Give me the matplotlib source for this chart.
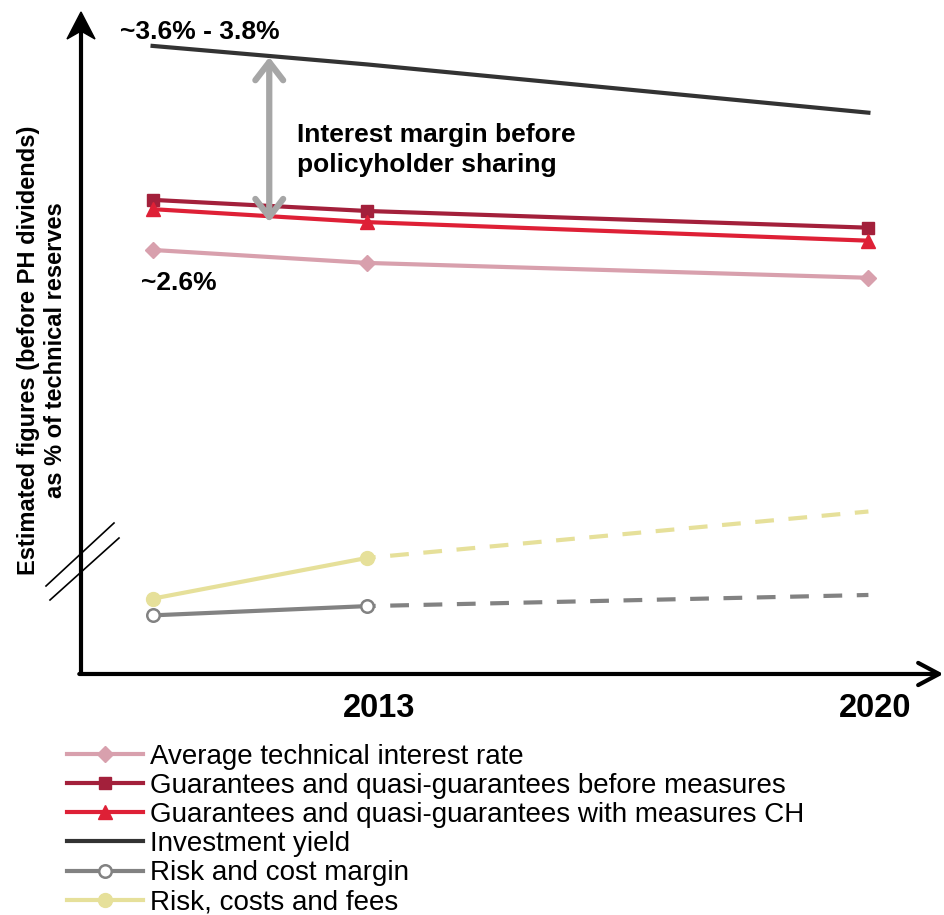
import matplotlib
matplotlib.use("Agg")
import matplotlib.pyplot as plt
from matplotlib.lines import Line2D
from matplotlib.patches import Polygon
from matplotlib.transforms import ScaledTranslation

plt.rcParams['font.family'] = ['Liberation Sans', 'DejaVu Sans']

years = [2010, 2013, 2020]
tick_years = [2013, 2020]
tick_labels = ["2013", "2020"]

avg_tech_rate = [2.60, 2.53, 2.45]
guar_before = [2.87, 2.81, 2.72]
guar_with = [2.82, 2.75, 2.65]
invest_yield = [3.70, 3.60, 3.34]
risk_cost_margin = [0.63, 0.68, 0.74]
risk_cost_fees = [0.72, 0.94, 1.19]

labels = ["Average technical interest rate",
          "Guarantees and quasi-guarantees before measures",
          "Guarantees and quasi-guarantees with measures CH",
          "Investment yield",
          "Risk and cost margin",
          "Risk, costs and fees"]

c_pink = "#d8a0ad"
c_dred = "#a3203b"
c_red = "#de2036"
c_dark = "#333333"
c_gray = "#828282"
c_yel = "#e6e09a"

W, H = 945, 915
fig = plt.figure(figsize=(9.45, 9.15), dpi=100)
ax = fig.add_axes([0.0857, 0.2634, 0.909, 0.7213])
ax.set_xlim(2009, 2021)
ax.set_ylim(0.314, 3.872)
for s in ax.spines.values():
    s.set_visible(False)
ax.set_yticks([])
ax.set_xticks(tick_years)
ax.set_xticklabels(tick_labels, fontsize=23.5, fontweight='bold')
ax.tick_params(axis='x', length=0, pad=14)
for lbl, dx in zip(ax.get_xticklabels(), [12, 7]):
    lbl.set_transform(lbl.get_transform() + ScaledTranslation(dx / 100, 0, fig.dpi_scale_trans))

lw = 3
ax.plot(years, invest_yield, color=c_dark, lw=lw)
ax.plot(years, guar_before, color=c_dred, lw=lw, marker='s', ms=9)
ax.plot(years, guar_with, color=c_red, lw=lw, marker='^', ms=10)
ax.plot(years, avg_tech_rate, color=c_pink, lw=lw, marker='D', ms=8)

# lower series: solid to 2013, dashed to 2020
ax.plot(years[:2], risk_cost_fees[:2], color=c_yel, lw=lw, marker='o', ms=10)
ax.plot(years[1:], risk_cost_fees[1:], color=c_yel, lw=lw, ls=(2.5, (4.5, 3.5)))
ax.plot(years[1:], risk_cost_margin[1:], color=c_gray, lw=lw, ls=(2.5, (4.5, 3.5)))
ax.plot(years[:2], risk_cost_margin[:2], color=c_gray, lw=lw, marker='o', ms=9,
        mfc='white', mec=c_gray, mew=1.8)

# y axis line with stealth arrowhead
fig.add_artist(Line2D([81 / W, 81 / W], [1 - 675 / H, 1 - 30 / H], color='black', lw=3,
                      solid_capstyle='butt', transform=fig.transFigure))
head = [(81, 12), (67, 39), (81, 31), (95, 39)]
fig.add_artist(Polygon([(x / W, 1 - y / H) for x, y in head], closed=True, color='black',
                       transform=fig.transFigure))
# x axis arrow
ax.annotate("", xy=(1.004, 0), xytext=(-0.002, 0), xycoords='axes fraction',
            arrowprops=dict(arrowstyle='->,head_length=1.5,head_width=0.8', lw=3, color='black',
                            shrinkA=0, shrinkB=0))

# axis break marks (figure pixels)
for (x0, y0, x1, y1) in [(46, 586, 114, 523), (50, 600, 119, 538)]:
    fig.add_artist(Line2D([x0 / W, x1 / W], [1 - y0 / H, 1 - y1 / H],
                          color='black', lw=1.2, transform=fig.transFigure))

# interest margin arrow
ax.annotate("", xy=(2011.63, 3.64), xytext=(2011.63, 2.75),
            arrowprops=dict(arrowstyle='<->,head_length=1.3,head_width=1.0', lw=4.5,
                            color='#a6a6a6', shrinkA=0, shrinkB=0))
ax.text(2012.02, 3.14, "Interest margin before\npolicyholder sharing", fontsize=19,
        fontweight='bold', va='center', ha='left', linespacing=1.3)
ax.text(2009.55, 3.71, "~3.6% - 3.8%", fontsize=19, fontweight='bold', va='bottom', ha='left')
ax.text(2009.84, 2.42, "~2.6%", fontsize=19, fontweight='bold', va='center', ha='left')

fig.text(0.0445, 0.617, "Estimated figures (before PH dividends)\nas % of technical reserves",
         rotation=90, fontsize=17, fontweight='bold', ha='center', va='center', linespacing=1.25)

handles = [
    Line2D([], [], color=c_pink, lw=lw, marker='D', ms=8),
    Line2D([], [], color=c_dred, lw=lw, marker='s', ms=9),
    Line2D([], [], color=c_red, lw=lw, marker='^', ms=10),
    Line2D([], [], color=c_dark, lw=lw),
    Line2D([], [], color=c_gray, lw=lw, marker='o', ms=9, mfc='white', mec=c_gray, mew=1.8),
    Line2D([], [], color=c_yel, lw=lw, marker='o', ms=10),
]
fig.legend(handles, labels, loc='upper left', bbox_to_anchor=(67 / W, 1 - 744 / H),
           frameon=False, fontsize=20, labelspacing=0.11, handlelength=2.75,
           handletextpad=0.25, borderpad=0, borderaxespad=0)

fig.savefig("out.png", dpi=100)
